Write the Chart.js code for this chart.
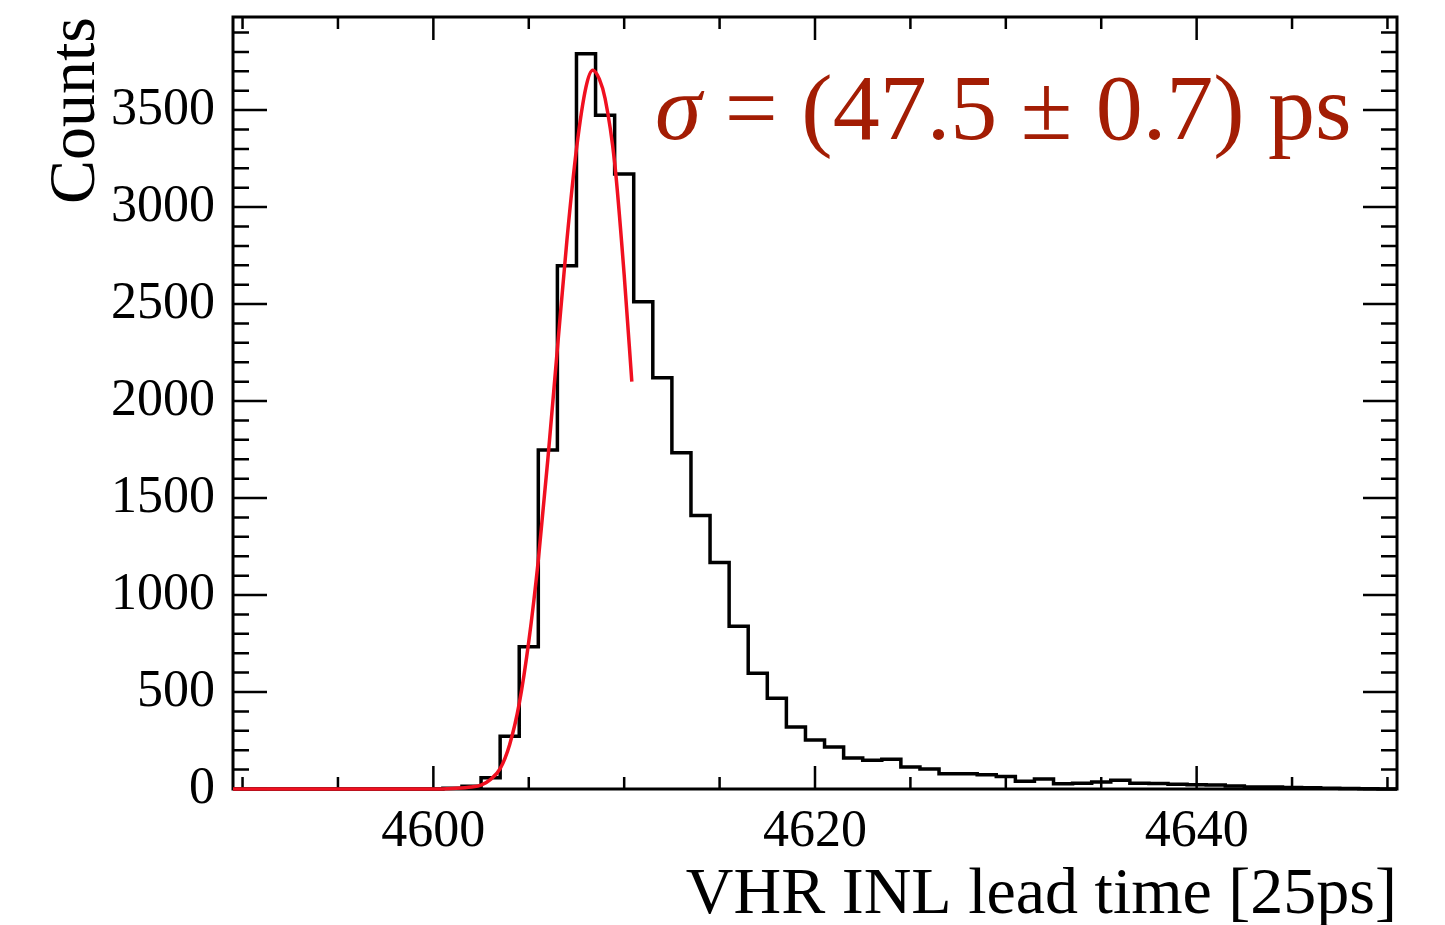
<!DOCTYPE html>
<html>
<head>
<meta charset="utf-8">
<script src="https://cdn.jsdelivr.net/npm/chart.js@4/dist/chart.umd.min.js"></script>
<style>
  body { margin: 0; background: #fff; }
  canvas { display: block; }
</style>
</head>
<body>
<canvas id="myChart" width="1445" height="925"></canvas>
<script>
// bin centres (unit = 25 ps), one bin per integer
const binCenters = [];
for (let b = 4590; b <= 4650; b++) binCenters.push(b);

const counts = [
  0, 0, 0, 0, 0, 0, 0, 0, 0, 0, 0,          // 4590 - 4600
  4, 14, 58, 272, 734, 1748, 2697, 3790,    // 4601 - 4608
  3474, 3170, 2512, 2120, 1734, 1410, 1168, // 4609 - 4615
  839, 597, 468, 319, 252, 216, 160, 148,   // 4616 - 4623
  154, 113, 103, 78, 78, 74, 64, 40, 52,    // 4624 - 4632
  27, 30, 36, 45, 30, 28, 25, 22, 20, 15,   // 4633 - 4642
  10, 10, 8, 6, 4, 2, 1, 0                  // 4643 - 4650
];

// gaussian fit curve
const fitX = [4589.5, 4600, 4601, 4602, 4602.5, 4603, 4603.5, 4604, 4604.5, 4605, 4605.5,
  4606, 4606.5, 4607, 4607.5, 4608, 4608.35, 4608.7, 4609, 4609.5, 4610, 4610.4];
const fitY = [0, 0, 3, 10, 20, 50, 105, 230, 440, 760, 1180,
  1700, 2270, 2830, 3300, 3620, 3706, 3660, 3560, 3230, 2650, 2100];

const xMajorTicks = [4600, 4620, 4640];
const yMajorTicks = [0, 500, 1000, 1500, 2000, 2500, 3000, 3500];
const fitLabel = ["\u03c3", " = (47.5 \u00b1 0.7) ps"];

const serif = "'Liberation Serif', 'Times New Roman', serif";

// histogram outline: value holds from lower edge to next edge
const histPoints = binCenters.map((c, i) => ({ x: c - 0.5, y: counts[i] }));
histPoints.push({ x: binCenters[binCenters.length - 1] + 0.5, y: counts[counts.length - 1] });

const fitPoints = fitX.map((x, i) => ({ x: x, y: fitY[i] }));

// ROOT style frame with inward ticks on all sides, plus fit result text
const frameTicks = {
  id: "frameTicks",
  beforeDatasetsDraw(chart) {
    const ctx = chart.ctx;
    const a = chart.chartArea;
    const xs = chart.scales.x;
    const ys = chart.scales.y;
    ctx.save();
    ctx.strokeStyle = "#000";
    ctx.lineWidth = 3;
    ctx.strokeRect(a.left, a.top, a.right - a.left, a.bottom - a.top);

    ctx.lineWidth = 2.5;
    ctx.beginPath();
    for (let v = 4590; v <= 4650; v += 5) {
      const px = xs.getPixelForValue(v);
      const len = v % 20 === 0 ? 23 : 12;
      ctx.moveTo(px, a.bottom);
      ctx.lineTo(px, a.bottom - len);
      ctx.moveTo(px, a.top);
      ctx.lineTo(px, a.top + len);
    }
    for (let v = 0; v <= 3900; v += 100) {
      const py = ys.getPixelForValue(v);
      const len = v % 500 === 0 ? 34 : 16;
      ctx.moveTo(a.left, py);
      ctx.lineTo(a.left + len, py);
      ctx.moveTo(a.right, py);
      ctx.lineTo(a.right - len, py);
    }
    ctx.stroke();
    ctx.restore();
  },
  afterDatasetsDraw(chart) {
    const ctx = chart.ctx;
    ctx.save();
    ctx.fillStyle = "#a31d04";
    ctx.textBaseline = "alphabetic";
    ctx.font = "italic 94px " + serif;
    ctx.fillText(fitLabel[0], 655, 139);
    const w = ctx.measureText(fitLabel[0]).width;
    ctx.font = "94px " + serif;
    ctx.fillText(fitLabel[1], 655 + w, 139);
    ctx.restore();
  }
};

const chart = new Chart(document.getElementById("myChart"), {
  type: "line",
  data: {
    datasets: [
      {
        label: "fit",
        data: fitPoints,
        borderColor: "#f01020",
        borderWidth: 3.5,
        pointRadius: 0,
        cubicInterpolationMode: "monotone",
        fill: false,
        clip: false,
      },
      {
        label: "hist",
        data: histPoints,
        borderColor: "#000",
        borderWidth: 3.5,
        pointRadius: 0,
        stepped: true,
        fill: false,
        clip: false,
      },
    ],
  },
  options: {
    responsive: false,
    animation: false,
    layout: { padding: { top: 17, right: 48, left: 0, bottom: 0 } },
    scales: {
      x: {
        type: "linear",
        min: 4589.5,
        max: 4650.5,
        afterBuildTicks: (scale) => {
          scale.ticks = xMajorTicks.map((v) => ({ value: v }));
        },
        afterFit: (scale) => {
          scale.height = 136;
          scale.paddingLeft = 0;
          scale.paddingRight = 0;
        },
        grid: { display: false, drawTicks: false },
        border: { display: false },
        ticks: {
          padding: 12,
          color: "#000",
          font: { family: serif, size: 52 },
          callback: (v) => String(v),
          maxRotation: 0,
          autoSkip: false,
        },
        title: {
          display: true,
          text: "VHR INL lead time [25ps]",
          align: "end",
          color: "#000",
          font: { family: serif, size: 66, lineHeight: 1.0 },
          padding: { top: 0, bottom: -4 },
        },
      },
      y: {
        min: 0,
        max: 3980,
        afterBuildTicks: (scale) => {
          scale.ticks = yMajorTicks.map((v) => ({ value: v }));
        },
        afterFit: (scale) => {
          scale.width = 233;
          scale.paddingTop = 0;
          scale.paddingBottom = 0;
        },
        grid: { display: false, drawTicks: false },
        border: { display: false },
        ticks: {
          padding: 18,
          color: "#000",
          font: { family: serif, size: 52 },
          callback: (v) => String(v),
          autoSkip: false,
        },
        title: {
          display: true,
          text: "Counts",
          align: "end",
          color: "#000",
          font: { family: serif, size: 66, lineHeight: 1.0 },
          padding: { top: 44, bottom: 0 },
        },
      },
    },
    plugins: {
      legend: { display: false },
      tooltip: { enabled: false },
    },
  },
  plugins: [frameTicks],
});
</script>
</body>
</html>
